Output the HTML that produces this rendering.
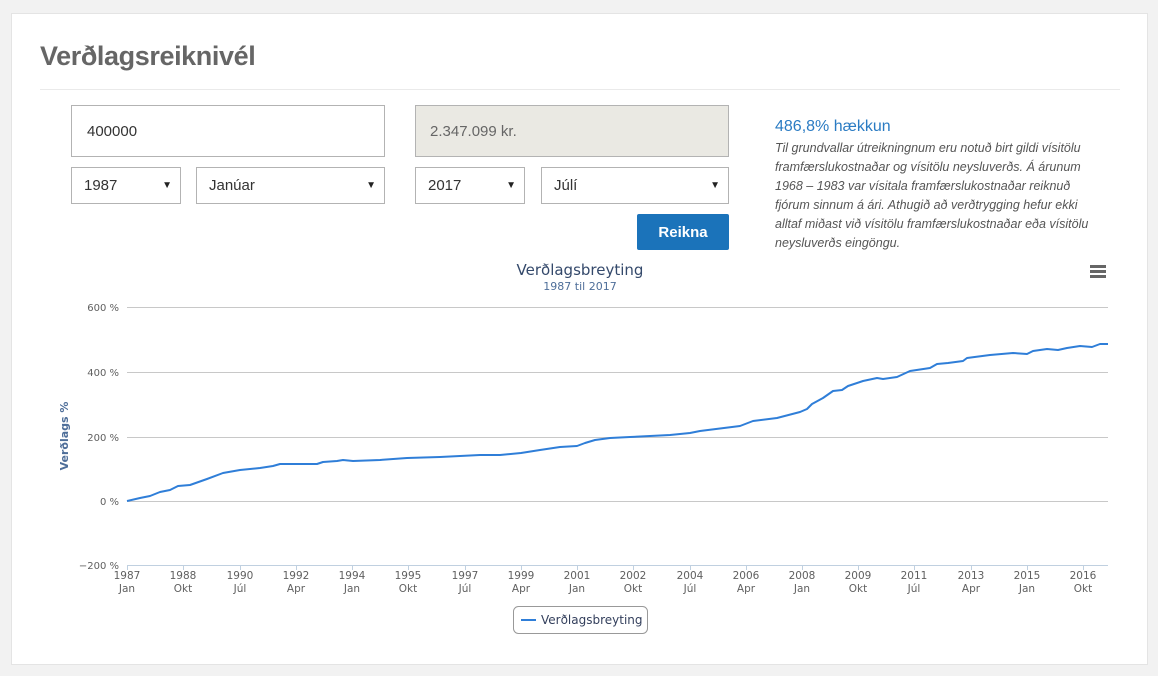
<!DOCTYPE html>
<html><head><meta charset="utf-8"><style>
*{box-sizing:border-box;margin:0;padding:0}
body{width:1158px;height:676px;background:#f2f2f2;font-family:"Liberation Sans",sans-serif;position:relative;overflow:hidden}
.card{position:absolute;left:11px;top:13px;width:1137px;height:652px;background:#fff;border:1px solid #e4e4e4}
.a{position:absolute}
.title{left:40px;top:41px;font-size:27px;font-weight:bold;color:#666;letter-spacing:-0.4px}
.hr{left:40px;top:89px;width:1080px;height:1px;background:#eaeaea}
.box{border:1px solid #b3b3b3;background:#fff;font-size:15px;color:#333;display:flex;align-items:center}
.sel span.ar{position:absolute;right:8px;font-size:10px;color:#222}
.btn{left:637px;top:214px;width:92px;height:36px;background:#1b73ba;border-radius:2px;color:#fff;font-weight:bold;font-size:15px;display:flex;align-items:center;justify-content:center}
.pct{left:775px;top:118px;font-size:16px;color:#2a7bc3}
.para{left:775px;top:139px;font-size:12.5px;line-height:19px;font-style:italic;color:#555;white-space:nowrap}
</style></head><body>
<div class="card"></div>
<div class="a title">Verðlagsreiknivél</div>
<div class="a hr"></div>
<div class="a box" style="left:71px;top:105px;width:314px;height:52px;padding-left:15px">400000</div>
<div class="a box" style="left:415px;top:105px;width:314px;height:52px;padding-left:14px;background:#eae9e3;color:#666">2.347.099 kr.</div>
<div class="a box sel" style="left:71px;top:167px;width:110px;height:37px;padding-left:12px">1987<span class="ar">▼</span></div>
<div class="a box sel" style="left:196px;top:167px;width:189px;height:37px;padding-left:12px">Janúar<span class="ar">▼</span></div>
<div class="a box sel" style="left:415px;top:167px;width:110px;height:37px;padding-left:12px">2017<span class="ar">▼</span></div>
<div class="a box sel" style="left:541px;top:167px;width:188px;height:37px;padding-left:12px">Júlí<span class="ar">▼</span></div>
<div class="a btn">Reikna</div>
<div class="a pct">486,8% hækkun</div>
<div class="a para">Til grundvallar útreikningnum eru notuð birt gildi vísitölu<br>framfærslukostnaðar og vísitölu neysluverðs. Á árunum<br>1968 – 1983 var vísitala framfærslukostnaðar reiknuð<br>fjórum sinnum á ári. Athugið að verðtrygging hefur ekki<br>alltaf miðast við vísitölu framfærslukostnaðar eða vísitölu<br>neysluverðs eingöngu.</div>
<svg class="a" style="left:0;top:0" width="1158" height="676" font-family="DejaVu Sans, sans-serif">
<text x="580" y="275" text-anchor="middle" font-size="15" fill="#34496b">Verðlagsbreyting</text>
<text x="580" y="290" text-anchor="middle" font-size="11" fill="#4e6e99">1987 til 2017</text>
<g fill="#666"><rect x="1090" y="265" width="16" height="3"/><rect x="1090" y="270" width="16" height="3"/><rect x="1090" y="275" width="16" height="3"/></g>
<g stroke="#c8c8c8" stroke-width="1">
<line x1="127" y1="307.5" x2="1108" y2="307.5"/><line x1="127" y1="372.5" x2="1108" y2="372.5"/><line x1="127" y1="437.5" x2="1108" y2="437.5"/><line x1="127" y1="501.5" x2="1108" y2="501.5"/>
</g>
<line x1="127" y1="565.5" x2="1108" y2="565.5" stroke="#c0d0e0"/>
<g stroke="#c0d0e0"><line x1="127.5" y1="565" x2="127.5" y2="570"/><line x1="183.5" y1="565" x2="183.5" y2="570"/><line x1="240.5" y1="565" x2="240.5" y2="570"/><line x1="296.5" y1="565" x2="296.5" y2="570"/><line x1="352.5" y1="565" x2="352.5" y2="570"/><line x1="408.5" y1="565" x2="408.5" y2="570"/><line x1="465.5" y1="565" x2="465.5" y2="570"/><line x1="521.5" y1="565" x2="521.5" y2="570"/><line x1="577.5" y1="565" x2="577.5" y2="570"/><line x1="633.5" y1="565" x2="633.5" y2="570"/><line x1="690.5" y1="565" x2="690.5" y2="570"/><line x1="746.5" y1="565" x2="746.5" y2="570"/><line x1="802.5" y1="565" x2="802.5" y2="570"/><line x1="858.5" y1="565" x2="858.5" y2="570"/><line x1="914.5" y1="565" x2="914.5" y2="570"/><line x1="971.5" y1="565" x2="971.5" y2="570"/><line x1="1027.5" y1="565" x2="1027.5" y2="570"/><line x1="1083.5" y1="565" x2="1083.5" y2="570"/></g>
<g font-size="10" fill="#606060" text-anchor="end">
<text x="119" y="311">600 %</text><text x="119" y="376">400 %</text><text x="119" y="441">200 %</text><text x="119" y="505">0 %</text><text x="119" y="569">−200 %</text>
</g>
<text transform="translate(68,436) rotate(-90)" text-anchor="middle" font-size="11" font-weight="bold" fill="#4e6e99">Verðlags %</text>
<g font-size="10.5" fill="#606060" text-anchor="middle">
<text x="127" y="579">1987</text><text x="127" y="592">Jan</text>
<text x="183" y="579">1988</text><text x="183" y="592">Okt</text>
<text x="240" y="579">1990</text><text x="240" y="592">Júl</text>
<text x="296" y="579">1992</text><text x="296" y="592">Apr</text>
<text x="352" y="579">1994</text><text x="352" y="592">Jan</text>
<text x="408" y="579">1995</text><text x="408" y="592">Okt</text>
<text x="465" y="579">1997</text><text x="465" y="592">Júl</text>
<text x="521" y="579">1999</text><text x="521" y="592">Apr</text>
<text x="577" y="579">2001</text><text x="577" y="592">Jan</text>
<text x="633" y="579">2002</text><text x="633" y="592">Okt</text>
<text x="690" y="579">2004</text><text x="690" y="592">Júl</text>
<text x="746" y="579">2006</text><text x="746" y="592">Apr</text>
<text x="802" y="579">2008</text><text x="802" y="592">Jan</text>
<text x="858" y="579">2009</text><text x="858" y="592">Okt</text>
<text x="914" y="579">2011</text><text x="914" y="592">Júl</text>
<text x="971" y="579">2013</text><text x="971" y="592">Apr</text>
<text x="1027" y="579">2015</text><text x="1027" y="592">Jan</text>
<text x="1083" y="579">2016</text><text x="1083" y="592">Okt</text>
</g>
<polyline fill="none" stroke="#2f7ed8" stroke-width="2" stroke-linejoin="round" points="127,501 140,498 150,496 160,492 170,490 178,486 190,485 207,479 223,473 240,470 260,468 273,466 280,464 317,464 323,462 337,461 343,460 353,461 380,460 407,458 440,457 480,455 500,455 521,453 540,450 560,447 577,446 585,443 595,440 610,438 630,437 650,436 670,435 690,433 700,431 740,426 753,421 777,418 800,412 807,409 812,404 823,398 833,391 842,390 848,386 863,381 877,378 883,379 897,377 910,371 930,368 937,364 948,363 963,361 967,358 990,355 1013,353 1027,354 1033,351 1047,349 1058,350 1067,348 1080,346 1092,347 1100,344 1108,344"/>
<rect x="513.5" y="606.5" width="134" height="27" rx="5" fill="#fff" stroke="#999"/>
<line x1="521" y1="620" x2="536" y2="620" stroke="#2f7ed8" stroke-width="2"/>
<text x="541" y="624" font-size="12" fill="#333f5c">Verðlagsbreyting</text>
</svg>
</body></html>
